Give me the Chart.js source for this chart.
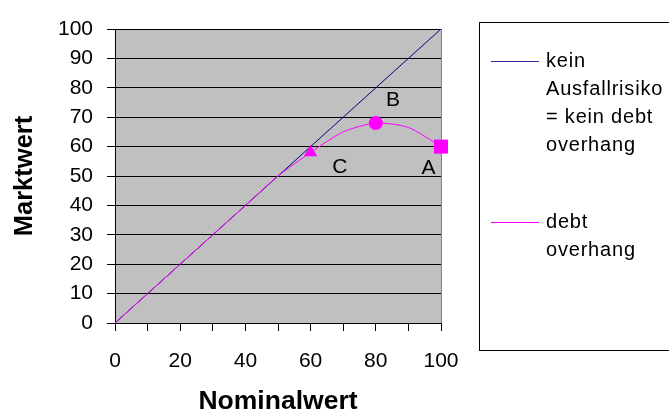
<!DOCTYPE html>
<html><head><meta charset="utf-8">
<script src="https://cdn.jsdelivr.net/npm/chart.js@4"></script>
<style>html,body{margin:0;padding:0;background:#fff}#wrap{width:669px;height:415px;position:relative}</style>
</head><body><div id="wrap"><canvas id="c" width="669" height="415"></canvas></div>
<script>
const xValues = [0, 10, 20, 30, 40, 50, 60, 70, 80, 90, 100];
const noRiskValues = [0, 10, 20, 30, 40, 50, 60, 70, 80, 90, 100];
const overhangValues = [0, 10, 20, 30, 40, 50, 58, 65, 68, 66.5, 60];
const xTickLabels = ['0', '20', '40', '60', '80', '100'];
const seriesNoRisk = ['kein', 'Ausfallrisiko', '= kein debt', 'overhang'];
const seriesOverhang = ['debt', 'overhang'];
const pointLabels = ['C', 'B', 'A'];
const pointLabelX = [69, 85.3, 96.2];
const pointLabelY = [52.9, 75.9, 52.7];
const xTitle = 'Nominalwert';
const yTitle = 'Marktwert';

const FONT = "'Liberation Sans', Arial, sans-serif";
Chart.defaults.font.family = FONT;
Chart.defaults.color = '#000';

const markerRadius = {6: 7.7, 8: 7, 10: 9.9};
const markerStyle = {6: 'triangle', 8: 'circle', 10: 'rect'};

const decor = {
  id: 'decor',
  beforeDraw(chart) {
    const {ctx, chartArea: a} = chart;
    ctx.save();
    ctx.fillStyle = '#C0C0C0';
    ctx.fillRect(a.left, a.top, a.right - a.left, a.bottom - a.top);
    ctx.restore();
  },
  beforeDatasetsDraw(chart) {
    const {ctx, chartArea: a} = chart;
    ctx.save();
    ctx.strokeStyle = '#808080';
    ctx.lineWidth = 1;
    ctx.beginPath();
    ctx.moveTo(Math.round(a.right) + 0.5, a.top);
    ctx.lineTo(Math.round(a.right) + 0.5, a.bottom);
    ctx.stroke();
    ctx.restore();
  },
  afterDraw(chart) {
    const {ctx, scales} = chart;
    ctx.save();
    ctx.fillStyle = '#000';
    ctx.font = '21px ' + FONT;
    ctx.textAlign = 'center';
    ctx.textBaseline = 'middle';
    pointLabels.forEach((t, i) => {
      ctx.fillText(t, scales.x.getPixelForValue(pointLabelX[i]), scales.y.getPixelForValue(pointLabelY[i]));
    });
    // legend
    ctx.strokeStyle = '#000';
    ctx.lineWidth = 1;
    ctx.strokeRect(479.5, 22.5, 220, 328);
    const ds = chart.data.datasets;
    const drawEntry = (lines, color, y0) => {
      ctx.strokeStyle = color;
      ctx.beginPath();
      ctx.moveTo(491, y0 + 0.5);
      ctx.lineTo(539, y0 + 0.5);
      ctx.stroke();
      ctx.textAlign = 'left';
      ctx.font = '20px ' + FONT;
      try { ctx.letterSpacing = '0.8px'; } catch (e) {}
      lines.forEach((l, i) => ctx.fillText(l, 546, y0 + i * 28));
      try { ctx.letterSpacing = '0px'; } catch (e) {}
    };
    drawEntry(seriesNoRisk, '#3030A0', 61);
    drawEntry(seriesOverhang, ds[1].borderColor, 222);
    ctx.restore();
  }
};

new Chart(document.getElementById('c'), {
  type: 'line',
  data: {
    labels: xValues,
    datasets: [
      {
        label: seriesNoRisk.join(' '),
        data: xValues.map((x, i) => ({x, y: noRiskValues[i]})),
        borderColor: '#000080',
        borderWidth: 1,
        pointRadius: 0,
        tension: 0,
        order: 2
      },
      {
        label: seriesOverhang.join(' '),
        data: xValues.map((x, i) => ({x, y: overhangValues[i]})),
        borderColor: '#FF00FF',
        backgroundColor: '#FF00FF',
        borderWidth: 1,
        tension: 0.25,
        clip: false,
        order: 1,
        pointRadius: c => markerRadius[c.dataIndex] || 0,
        pointStyle: c => markerStyle[c.dataIndex] || 'circle',
        pointBorderWidth: 0,
        pointBackgroundColor: '#FF00FF',
        pointBorderColor: '#FF00FF'
      }
    ]
  },
  options: {
    responsive: false,
    animation: false,
    events: [],
    layout: {padding: {left: 0, right: 228, top: 29, bottom: 0}},
    plugins: {legend: {display: false}, tooltip: {enabled: false}},
    scales: {
      x: {
        type: 'linear', min: 0, max: 100,
        afterFit(s) { s.height = 92; },
        ticks: {
          stepSize: 10, autoSkip: false, maxRotation: 0, padding: 18,
          font: {size: 21}, color: '#000',
          callback: v => xTickLabels.includes(String(v)) ? String(v) : ''
        },
        grid: {drawOnChartArea: false, drawTicks: true, tickLength: 8, tickColor: '#000', color: '#000'},
        border: {color: '#000', width: 1},
        title: {display: true, text: xTitle, font: {size: 26.5, weight: 'bold', lineHeight: 1}, padding: {top: 0, bottom: 0}, color: '#000'}
      },
      y: {
        min: 0, max: 100,
        afterFit(s) { s.width = 115; },
        ticks: {stepSize: 10, padding: 14, font: {size: 21}, color: '#000'},
        grid: {color: '#000', tickLength: 8, tickColor: '#000', lineWidth: 1},
        border: {color: '#000', width: 1},
        title: {display: true, text: yTitle, font: {size: 25.5, weight: 'bold', lineHeight: 1}, padding: {top: 12.5, bottom: 0}, color: '#000'}
      }
    }
  },
  plugins: [decor]
});
</script></body></html>
